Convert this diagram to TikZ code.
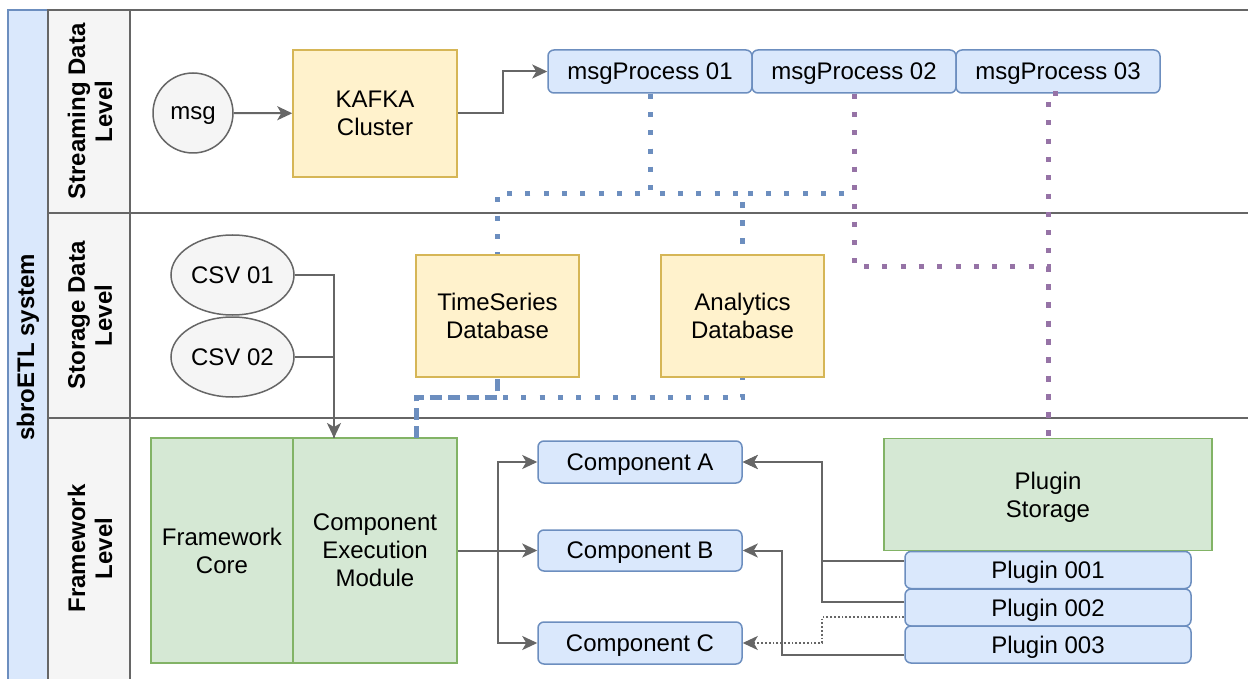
\documentclass[tikz,border=0pt]{standalone}
\usepackage{fontspec}
\setmainfont{Liberation Sans}
\usetikzlibrary{arrows.meta,shapes.geometric,calc}
\definecolor{bfill}{HTML}{DAE8FC}
\definecolor{bline}{HTML}{6C8EBF}
\definecolor{yfill}{HTML}{FFF2CC}
\definecolor{yline}{HTML}{D6B656}
\definecolor{gfill}{HTML}{D5E8D4}
\definecolor{gline}{HTML}{82B366}
\definecolor{gyfill}{HTML}{F5F5F5}
\definecolor{gyline}{HTML}{666666}
\definecolor{pline}{HTML}{9673A6}
\tikzset{
  txt/.style={font=\fontsize{24}{28}\selectfont, inner sep=0pt, align=center, text depth=0pt},
  hdr/.style={font=\fontsize{24}{27}\selectfont\bfseries, inner sep=0pt, align=center, rotate=90},
  blbox/.style={txt, draw=bline, fill=bfill, line width=1.5pt, rounded corners=6pt},
  ylbox/.style={txt, draw=yline, fill=yfill, line width=1.5pt},
  grbox/.style={txt, draw=gline, fill=gfill, line width=1.5pt},
  gybox/.style={txt, draw=gyline, fill=gyfill, line width=1.5pt},
  conn/.style={draw=gyline, line width=2pt, -{Stealth[length=15pt,width=14pt,inset=4pt]}},
  plain/.style={draw=gyline, line width=2pt},
  gdot/.style={draw=gyline, line width=1.8pt, dash pattern=on 1.8pt off 2pt, -{Stealth[length=15pt,width=14pt,inset=4pt]}},
  bdot/.style={draw=bline, line width=5pt, dash pattern=on 5pt off 13.3pt},
  bdash/.style={draw=bline, line width=5pt, dash pattern=on 12pt off 6.3pt},
  pdot/.style={draw=pline, line width=5pt, dash pattern=on 5pt off 13.3pt},
}
\begin{document}
\begin{tikzpicture}[x=1pt,y=-1pt]
\useasboundingbox (0,0) rectangle (1248,679);
\clip (0,0) rectangle (1248,679);
\fill[white] (0,0) rectangle (1248,679);
% pool and lanes
\draw[draw=bline, fill=bfill, line width=1.5pt] (8,10) rectangle (48,690);
\draw[draw=gyline, fill=gyfill, line width=1.5pt] (48,10) rectangle (130,213);
\draw[draw=gyline, fill=gyfill, line width=1.5pt] (48,213) rectangle (130,418);
\draw[draw=gyline, fill=gyfill, line width=1.5pt] (48,418) rectangle (130,690);
\draw[draw=gyline, line width=1.5pt] (130,10) rectangle (1270,213);
\draw[draw=gyline, line width=1.5pt] (130,213) rectangle (1270,418);
\draw[draw=gyline, line width=1.5pt] (130,418) rectangle (1270,690);
\node[hdr] (title) at (28,347) {sbroETL system};
\node[hdr] (lane1) at (90,111.5) {Streaming Data\\Level};
\node[hdr] (lane2) at (90,315.5) {Storage Data\\Level};
\node[hdr] (lane3) at (90,548.5) {Framework\\Level};

% streaming level
\node[gybox, circle, minimum size=80pt] (msg) at (193,113) {msg};
\node[ylbox, minimum width=164pt, minimum height=127pt] (kafka) at (375,113.5) {KAFKA\\Cluster};
\node[blbox, minimum width=204pt, minimum height=43pt] (mp1) at (650,71.5) {msgProcess 01};
\node[blbox, minimum width=204pt, minimum height=43pt] (mp2) at (854,71.5) {msgProcess 02};
\node[blbox, minimum width=204pt, minimum height=43pt] (mp3) at (1058,71.5) {msgProcess 03};

% storage level
\node[gybox, ellipse, minimum width=123pt, minimum height=80pt] (csv1) at (232.5,275) {CSV 01};
\node[gybox, ellipse, minimum width=123pt, minimum height=80pt] (csv2) at (232.5,357) {CSV 02};
\node[ylbox, minimum width=163pt, minimum height=122pt] (ts) at (497.5,316) {TimeSeries\\Database};
\node[ylbox, minimum width=163pt, minimum height=122pt] (an) at (742.5,316) {Analytics\\Database};

% framework level
\node[grbox, minimum width=142pt, minimum height=225pt] (fc) at (222,550.5) {Framework\\Core};
\node[grbox, minimum width=164pt, minimum height=225pt] (cem) at (375,550.5) {Component\\Execution\\Module};
\node[blbox, minimum width=204pt, minimum height=42pt] (ca) at (640,462) {Component A};
\node[blbox, minimum width=204pt, minimum height=41pt] (cb) at (640,550.5) {Component B};
\node[blbox, minimum width=204pt, minimum height=42pt] (cc) at (640,643) {Component C};
\node[grbox, minimum width=328pt, minimum height=112pt] (ps) at (1048,494.5) {Plugin\\Storage};
\node[blbox, minimum width=286pt, minimum height=37pt] (p1) at (1048,570) {Plugin 001};
\node[blbox, minimum width=286pt, minimum height=37pt] (p2) at (1048,607.5) {Plugin 002};
\node[blbox, minimum width=286pt, minimum height=37pt] (p3) at (1048,644.5) {Plugin 003};
\coordinate (cemin) at (334,438);
\coordinate (cemtop) at (416,438);

% gray connectors
\draw[conn] (msg) -- (kafka);
\draw[conn] (kafka.east) -- ++(45,0) |- (mp1.west);
\draw[plain] (csv2.east) -| (cemin);
\draw[conn] (csv1.east) -| (cemin);
\draw[conn] (cem.east) -- ++(40,0) |- (ca.west);
\draw[conn] (cem.east) -- ++(40,0) |- (cc.west);
\draw[conn] (cem.east) -- (cb.west);
\draw[conn] ([yshift=9pt]p1.west) -- ++(-82,0) |- (ca.east);
\draw[conn] ([yshift=5.5pt]p2.west) -- ++(-82,0) |- (ca.east);
\draw[gdot] ([yshift=-9.5pt]p2.west) -- ++(-82,0) |- (cc.east);
\draw[conn] ([yshift=-10.5pt]p3.west) -- ++(-122,0) |- (cb.east);

% blue dotted / dashed
\draw[bdot] (mp1.south) -- ++(0,100) -| (ts.north);
\draw[bdot] (mp1.south) -- ++(0,100) -| (an.north);
\draw[bdot] (mp2.south) -- ++(0,100) -| (an.north);
\draw[bdot] (cemtop) -- ++(0,-41) -| (an.south);
\draw[bdash] (cemtop) -- ++(0,-41) -| (ts.south);

% purple dotted
\draw[pdot] (mp2.south) -- ++(0,173) -| (ps.north);
\draw[pdot] (mp3.south) -| (ps.north);
\end{tikzpicture}
\end{document}
